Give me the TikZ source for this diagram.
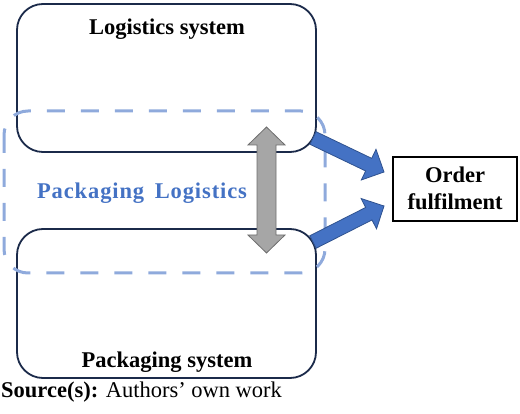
\documentclass[tikz,border=0pt]{standalone}
\usepackage{fontspec}
\setmainfont{Liberation Serif}
\usetikzlibrary{calc}
\definecolor{navy}{HTML}{1B2A4A}
\definecolor{dashblue}{HTML}{8FAADC}
\definecolor{mblue}{HTML}{4472C4}
\definecolor{dblue}{HTML}{2F528F}
\definecolor{gfill}{HTML}{A6A6A6}
\definecolor{gline}{HTML}{6E6E6E}
\begin{document}
\begin{tikzpicture}[x=1pt,y=-1pt,
  sysbox/.style={draw=navy,line width=1.8pt,rounded corners=26pt},
  dashbox/.style={draw=dashblue,line width=3pt,dash pattern=on 18pt off 16pt,rounded corners=24pt},
  lbl/.style={font=\fontsize{22.5}{27}\selectfont\bfseries,inner sep=0pt,anchor=base},
  bluearrow/.style={fill=mblue,draw=dblue,line width=0.8pt,line join=miter},
  grayarrow/.style={fill=gfill,draw=gline,line width=0.8pt}]
\useasboundingbox (0,0) rectangle (520,414);
% boxes
\draw[sysbox] (17,4) rectangle (316,152);
\draw[sysbox] (17,229) rectangle (316,378);
\draw[dashbox] (4,111) rectangle (325,273);
\node[lbl] (logi) at (167,35) {Logistics system};
\node[lbl] (pack) at (167,367) {Packaging system};
\node[lbl,text=mblue] (pl) at (142,199) {\addfontfeatures{LetterSpace=4}Packaging\hspace{4pt} Logistics};
% order box
\draw[black,line width=1.3pt] (393,157) rectangle (517,221);
\node[lbl] (of1) at (455,183) {Order};
\node[lbl] (of2) at (455,210) {fulfilment};
% gray double arrow
\draw[grayarrow] (266.5,127) -- (285,145) -- (276,145) -- (276,235) -- (285,235)
  -- (266.5,253) -- (248,235) -- (257,235) -- (257,145) -- (248,145) -- cycle;
% blue arrows
\coordinate (tA) at (313,138);
\coordinate (pA) at (384,172);
\coordinate (bA) at ($(pA)!17pt!(tA)$);
\draw[bluearrow] ($(tA)!7pt!90:(pA)$) -- ($(bA)!7pt!-90:(tA)$) -- ($(bA)!17pt!-90:(tA)$)
   -- (pA) -- ($(bA)!17pt!90:(tA)$) -- ($(bA)!7pt!90:(tA)$) -- ($(tA)!7pt!-90:(pA)$) -- cycle;
\coordinate (tB) at (313,242);
\coordinate (pB) at (384,206);
\coordinate (bB) at ($(pB)!17pt!(tB)$);
\draw[bluearrow] ($(tB)!7pt!90:(pB)$) -- ($(bB)!7pt!-90:(tB)$) -- ($(bB)!17pt!-90:(tB)$)
   -- (pB) -- ($(bB)!17pt!90:(tB)$) -- ($(bB)!7pt!90:(tB)$) -- ($(tB)!7pt!-90:(pB)$) -- cycle;
\node[font=\fontsize{22.5}{27}\selectfont,inner sep=0pt,anchor=base west] (src) at (1,398) {\textbf{Source(s):} Authors’ own work};
\end{tikzpicture}
\end{document}
